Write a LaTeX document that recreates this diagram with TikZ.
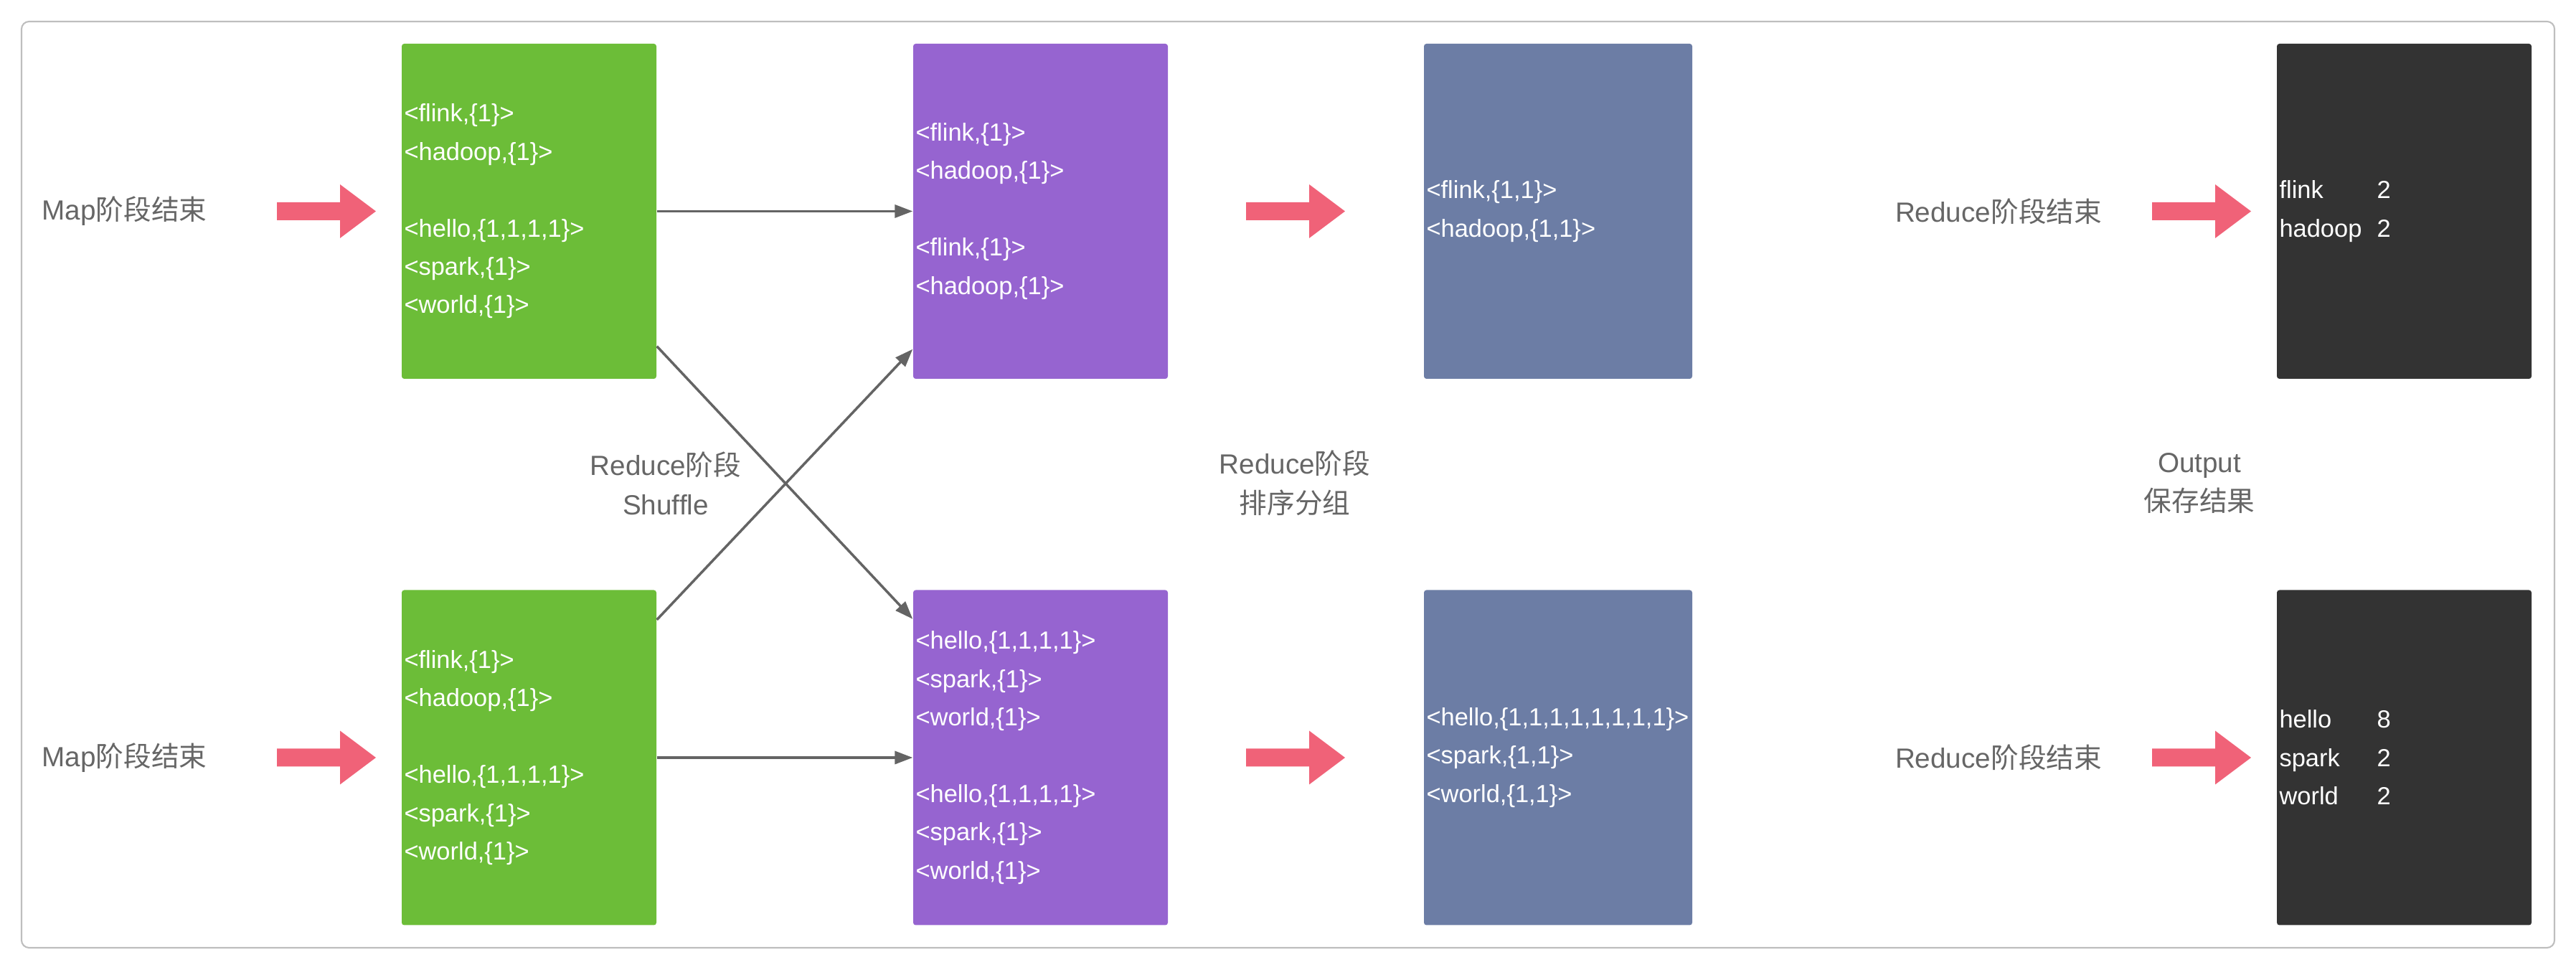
\documentclass[tikz,border=0pt]{standalone}
\usepackage{fontspec}
\setmainfont{Liberation Sans}
\newfontfamily\cjk{Noto Sans CJK SC}
\usetikzlibrary{arrows.meta,calc}
\definecolor{mapgreen}{RGB}{108,189,56}
\definecolor{shufpurple}{RGB}{150,100,208}
\definecolor{sortblue}{RGB}{108,125,165}
\definecolor{outdark}{RGB}{51,51,51}
\definecolor{arrowred}{RGB}{240,98,120}
\definecolor{labelgray}{RGB}{102,102,102}
\definecolor{framegray}{RGB}{190,190,190}
\definecolor{linegray}{RGB}{100,100,100}

\begin{document}
\begin{tikzpicture}[
    stagebox/.style={rounded corners=1pt, minimum height=4.67cm, inner xsep=0.035cm,
        text width=3.48cm, text=white, align=left, font=\fontsize{9.8}{15.2}\selectfont},
    stagelabel/.style={text=labelgray, align=center, font=\fontsize{11}{15.6}\selectfont},
    flow/.style={-{Triangle[length=0.25cm,width=0.18cm]}, linegray, line width=1pt},
    fatarrow/.pic={\fill[arrowred] (0,-0.125) -- (0.88,-0.125) -- (0.88,-0.375) -- (1.38,0)
        -- (0.88,0.375) -- (0.88,0.125) -- (0,0.125) -- cycle;}
]
\useasboundingbox (0,0) rectangle (35.91,13.52);

% Frame
\draw[framegray, line width=0.6pt, rounded corners=3pt] (0.30,0.31) rectangle (35.61,13.22);

% Map output
\node[stagebox, fill=mapgreen] (map1) at (7.375,10.575) {
    <flink,\{1\}>\\
    <hadoop,\{1\}>\\[15.2pt]
    <hello,\{1,1,1,1\}>\\
    <spark,\{1\}>\\
    <world,\{1\}>
};
\node[stagebox, fill=mapgreen] (map2) at (7.375,2.96) {
    <flink,\{1\}>\\
    <hadoop,\{1\}>\\[15.2pt]
    <hello,\{1,1,1,1\}>\\
    <spark,\{1\}>\\
    <world,\{1\}>
};

% Shuffle
\node[stagebox, fill=shufpurple] (shuf1) at (14.505,10.575) {
    <flink,\{1\}>\\
    <hadoop,\{1\}>\\[15.2pt]
    <flink,\{1\}>\\
    <hadoop,\{1\}>
};
\node[stagebox, fill=shufpurple] (shuf2) at (14.505,2.96) {
    <hello,\{1,1,1,1\}>\\
    <spark,\{1\}>\\
    <world,\{1\}>\\[15.2pt]
    <hello,\{1,1,1,1\}>\\
    <spark,\{1\}>\\
    <world,\{1\}>
};

% Sort and group
\node[stagebox, fill=sortblue, text width=3.67cm] (sort1) at (21.72,10.575) {
    <flink,\{1,1\}>\\
    <hadoop,\{1,1\}>
};
\node[stagebox, fill=sortblue, text width=3.67cm] (sort2) at (21.72,2.96) {
    <hello,\{1,1,1,1,1,1,1,1\}>\\
    <spark,\{1,1\}>\\
    <world,\{1,1\}>
};

% Output
\node[stagebox, fill=outdark] (out1) at (33.515,10.575) {
    \makebox[3.95em][l]{flink}2\\
    \makebox[3.95em][l]{hadoop}2
};
\node[stagebox, fill=outdark] (out2) at (33.515,2.96) {
    \makebox[3.95em][l]{hello}8\\
    \makebox[3.95em][l]{spark}2\\
    \makebox[3.95em][l]{world}2
};

% Labels
\node[stagelabel] (mapend1) at (1.735,10.575) {Map{\cjk 阶段结束}};
\node[stagelabel] (mapend2) at (1.735,2.96) {Map{\cjk 阶段结束}};
\node[stagelabel] (shuflbl) at (9.28,6.785) {Reduce{\cjk 阶段}\\Shuffle};
\node[stagelabel] (sortlbl) at (18.05,6.785) {Reduce{\cjk 阶段}\\{\cjk 排序分组}};
\node[stagelabel] (outlbl) at (30.66,6.785) {Output\\{\cjk 保存结果}};
\node[stagelabel] (redend1) at (27.86,10.575) {Reduce{\cjk 阶段结束}};
\node[stagelabel] (redend2) at (27.86,2.96) {Reduce{\cjk 阶段结束}};

% Fat arrows
\pic at (3.86,10.575) {fatarrow};
\pic at (3.86,2.96) {fatarrow};
\pic at (17.37,10.575) {fatarrow};
\pic at (17.37,2.96) {fatarrow};
\pic at (30.00,10.575) {fatarrow};
\pic at (30.00,2.96) {fatarrow};

% Shuffle connectors
\draw[flow] (map1.east) -- (shuf1.west);
\draw[flow] (map2.east) -- (shuf2.west);
\draw[flow] ($(map1.south east)+(0,0.46)$) -- ($(shuf2.north west)+(0,-0.41)$);
\draw[flow] ($(map2.north east)+(0,-0.42)$) -- ($(shuf1.south west)+(0,0.42)$);

\end{tikzpicture}
\end{document}
